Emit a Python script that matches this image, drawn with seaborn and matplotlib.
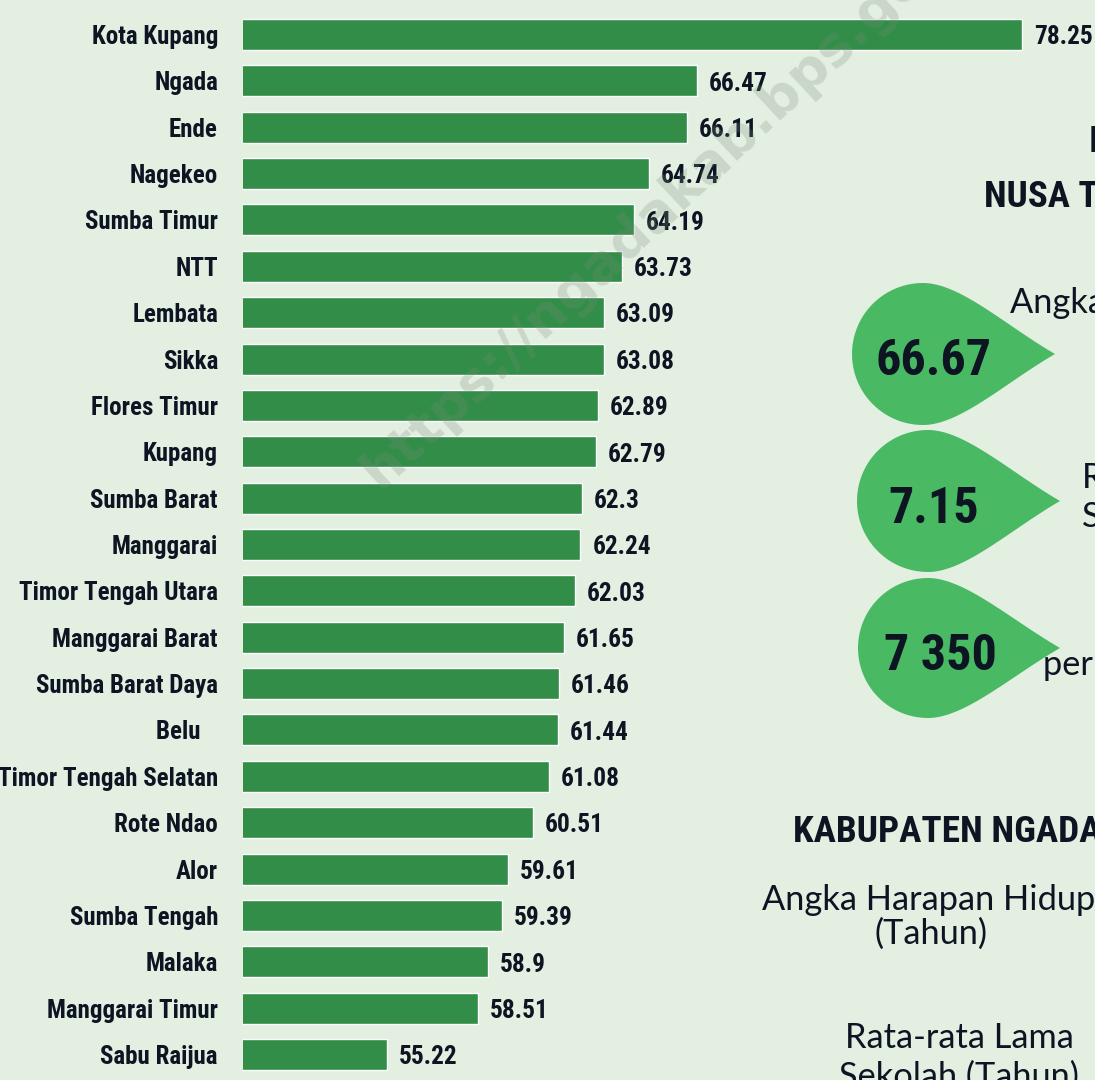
import numpy as np
import pandas as pd
import matplotlib
matplotlib.use('Agg')
import matplotlib.pyplot as plt
import seaborn as sns
from matplotlib import font_manager
from matplotlib.patches import Polygon

kabupaten = ['Kota Kupang', 'Ngada', 'Ende', 'Nagekeo', 'Sumba Timur', 'NTT', 'Lembata', 'Sikka',
             'Flores Timur', 'Kupang', 'Sumba Barat', 'Manggarai', 'Timor Tengah Utara',
             'Manggarai Barat', 'Sumba Barat Daya', 'Belu', 'Timor Tengah Selatan', 'Rote Ndao',
             'Alor', 'Sumba Tengah', 'Malaka', 'Manggarai Timur', 'Sabu Raijua']
ipm = [78.25, 66.47, 66.11, 64.74, 64.19, 63.73, 63.09, 63.08, 62.89, 62.79, 62.3, 62.24,
       62.03, 61.65, 61.46, 61.44, 61.08, 60.51, 59.61, 59.39, 58.9, 58.51, 55.22]
tick_labels = [k if k != 'Belu' else 'Belu   ' for k in kabupaten]

# angka ringkasan NTT (tetes hijau di kanan)
ringkasan = ['66.67', '7.15', '7 350']

bg = '#e2efe1'
bar_color = '#318d47'
drop_color = '#49b963'
ink = '#0d1523'


def pick(*names):
    for n in names:
        try:
            font_manager.findfont(font_manager.FontProperties(family=n), fallback_to_default=False)
            return n
        except ValueError:
            pass
    return 'DejaVu Sans'


narrow = pick('Roboto Condensed', 'Open Sans Condensed', 'Liberation Sans Narrow',
              'Noto Sans Condensed', 'Liberation Sans')
geo = pick('Lato', 'Open Sans')

sns.set_theme(style='white')
plt.rcParams['font.family'] = [narrow, 'DejaVu Sans']

fig = plt.figure(figsize=(10.95, 10.8), dpi=100)
fig.patch.set_facecolor(bg)
renderer = fig.canvas.get_renderer()


def fit(text, width_px, max_size, weight='bold', family=None):
    # ukuran huruf supaya lebar teks kira-kira sama dengan gambar asli
    t = fig.text(0, 0, text, fontsize=20, fontweight=weight, family=family or [narrow, 'DejaVu Sans'])
    w = t.get_window_extent(renderer).width
    t.remove()
    return min(max_size, 20 * width_px / w)


label_size = fit('Kota Kupang', 131, 18)
value_size = fit('78.25', 59, 19.5)
drop_size = fit('66.67', 116, 40)
head_size = fit('KABUPATEN', 190, 32)
nusa_size = fit('NUSA', 86, 30)
body_size = fit('Angka Harapan Hidup', 334, 26, weight='normal', family=geo)

ax = fig.add_axes([243 / 1095, 0, 1 - 243 / 1095, 1])
ax.set_facecolor(bg)
df = pd.DataFrame({'kabupaten': kabupaten, 'ipm': ipm})
sns.barplot(data=df, x='ipm', y='kabupaten', orient='h', color=bar_color, saturation=1,
            width=0.67, ax=ax)
ax.set_xlim(50, 80.9)
ax.set_ylim(22.55, -0.744)
ax.set_yticks(range(len(kabupaten)))
ax.set_yticklabels(tick_labels, fontsize=label_size, fontweight='bold', color=ink)
ax.tick_params(axis='y', length=0, pad=18)
ax.set_xticks([])
ax.set_xlabel('')
ax.set_ylabel('')
sns.despine(ax=ax, left=True, bottom=True)

for i, v in enumerate(ipm):
    ax.annotate(f'{v}', (v, i), xytext=(8.5, -2), textcoords='offset points',
                ha='left', va='center', fontsize=value_size, fontweight='bold', color=ink)

# lapisan hiasan, koordinat piksel
deco = fig.add_axes([0, 0, 1, 1])
deco.set_xlim(0, 1095)
deco.set_ylim(1080, 0)
deco.axis('off')
deco.patch.set_alpha(0)


def teardrop(cx, cy, r, tip):
    th = np.linspace(np.pi / 2, 3 * np.pi / 2, 60)
    arc = np.column_stack([cx + r * np.cos(th), cy - r * np.sin(th)])
    t = np.linspace(0, 1, 60)[:, None]

    def bez(p0, p1, p2, p3):
        p0, p1, p2, p3 = map(np.array, (p0, p1, p2, p3))
        return (1 - t) ** 3 * p0 + 3 * (1 - t) ** 2 * t * p1 + 3 * (1 - t) * t ** 2 * p2 + t ** 3 * p3

    low = bez((cx, cy + r), (cx + 0.52 * r, cy + r), (tip - 50, cy + 29), (tip, cy))
    up = bez((tip, cy), (tip - 50, cy - 29), (cx + 0.52 * r, cy - r), (cx, cy - r))
    return Polygon(np.vstack([arc, low, up]), closed=True, facecolor=drop_color, edgecolor='none')


drops = [(923, 354, 71, 1055), (928, 501, 71, 1060), (928, 648, 70, 1060)]
num_pos = [(934, 375), (934, 523), (940, 670)]
for (cx, cy, r, tip), (tx, ty), s in zip(drops, num_pos, ringkasan):
    deco.add_patch(teardrop(cx, cy, r, tip))
    deco.text(tx, ty, s, ha='center', va='baseline', fontsize=drop_size, fontweight='bold', color=ink)

deco.text(1089, 152, 'IPM PROVINSI', ha='left', va='baseline', fontsize=nusa_size,
          fontweight='bold', color=ink)
deco.text(984, 207, 'NUSA TENGGARA TIMUR', ha='left', va='baseline', fontsize=nusa_size,
          fontweight='bold', color=ink)

body = dict(va='baseline', fontsize=body_size, color=ink, family=geo)
deco.text(1010, 313, 'Angka Harapan Hidup', ha='left', **body)
deco.text(1082, 488, 'Rata-rata Lama', ha='left', **body)
deco.text(1082, 527, 'Sekolah', ha='left', **body)
deco.text(1043, 675, 'per kapita', ha='left', **body)

deco.text(793, 842, 'KABUPATEN NGADA', ha='left', va='baseline', fontsize=head_size,
          fontweight='bold', color=ink)
deco.text(929, 910, 'Angka Harapan Hidup', ha='center', **body)
deco.text(931, 944, '(Tahun)', ha='center', **body)
deco.text(959, 1048, 'Rata-rata Lama', ha='center', **body)
deco.text(959, 1087, 'Sekolah (Tahun)', ha='center', **body)

deco.text(380, 490, 'https://ngadakab.bps.go.id', rotation=43, rotation_mode='anchor',
          ha='left', va='baseline', fontsize=39, fontweight='bold', color='#7d8d7d', alpha=0.25,
          family='DejaVu Sans')

fig.savefig('out.png', dpi=100, facecolor=bg)
